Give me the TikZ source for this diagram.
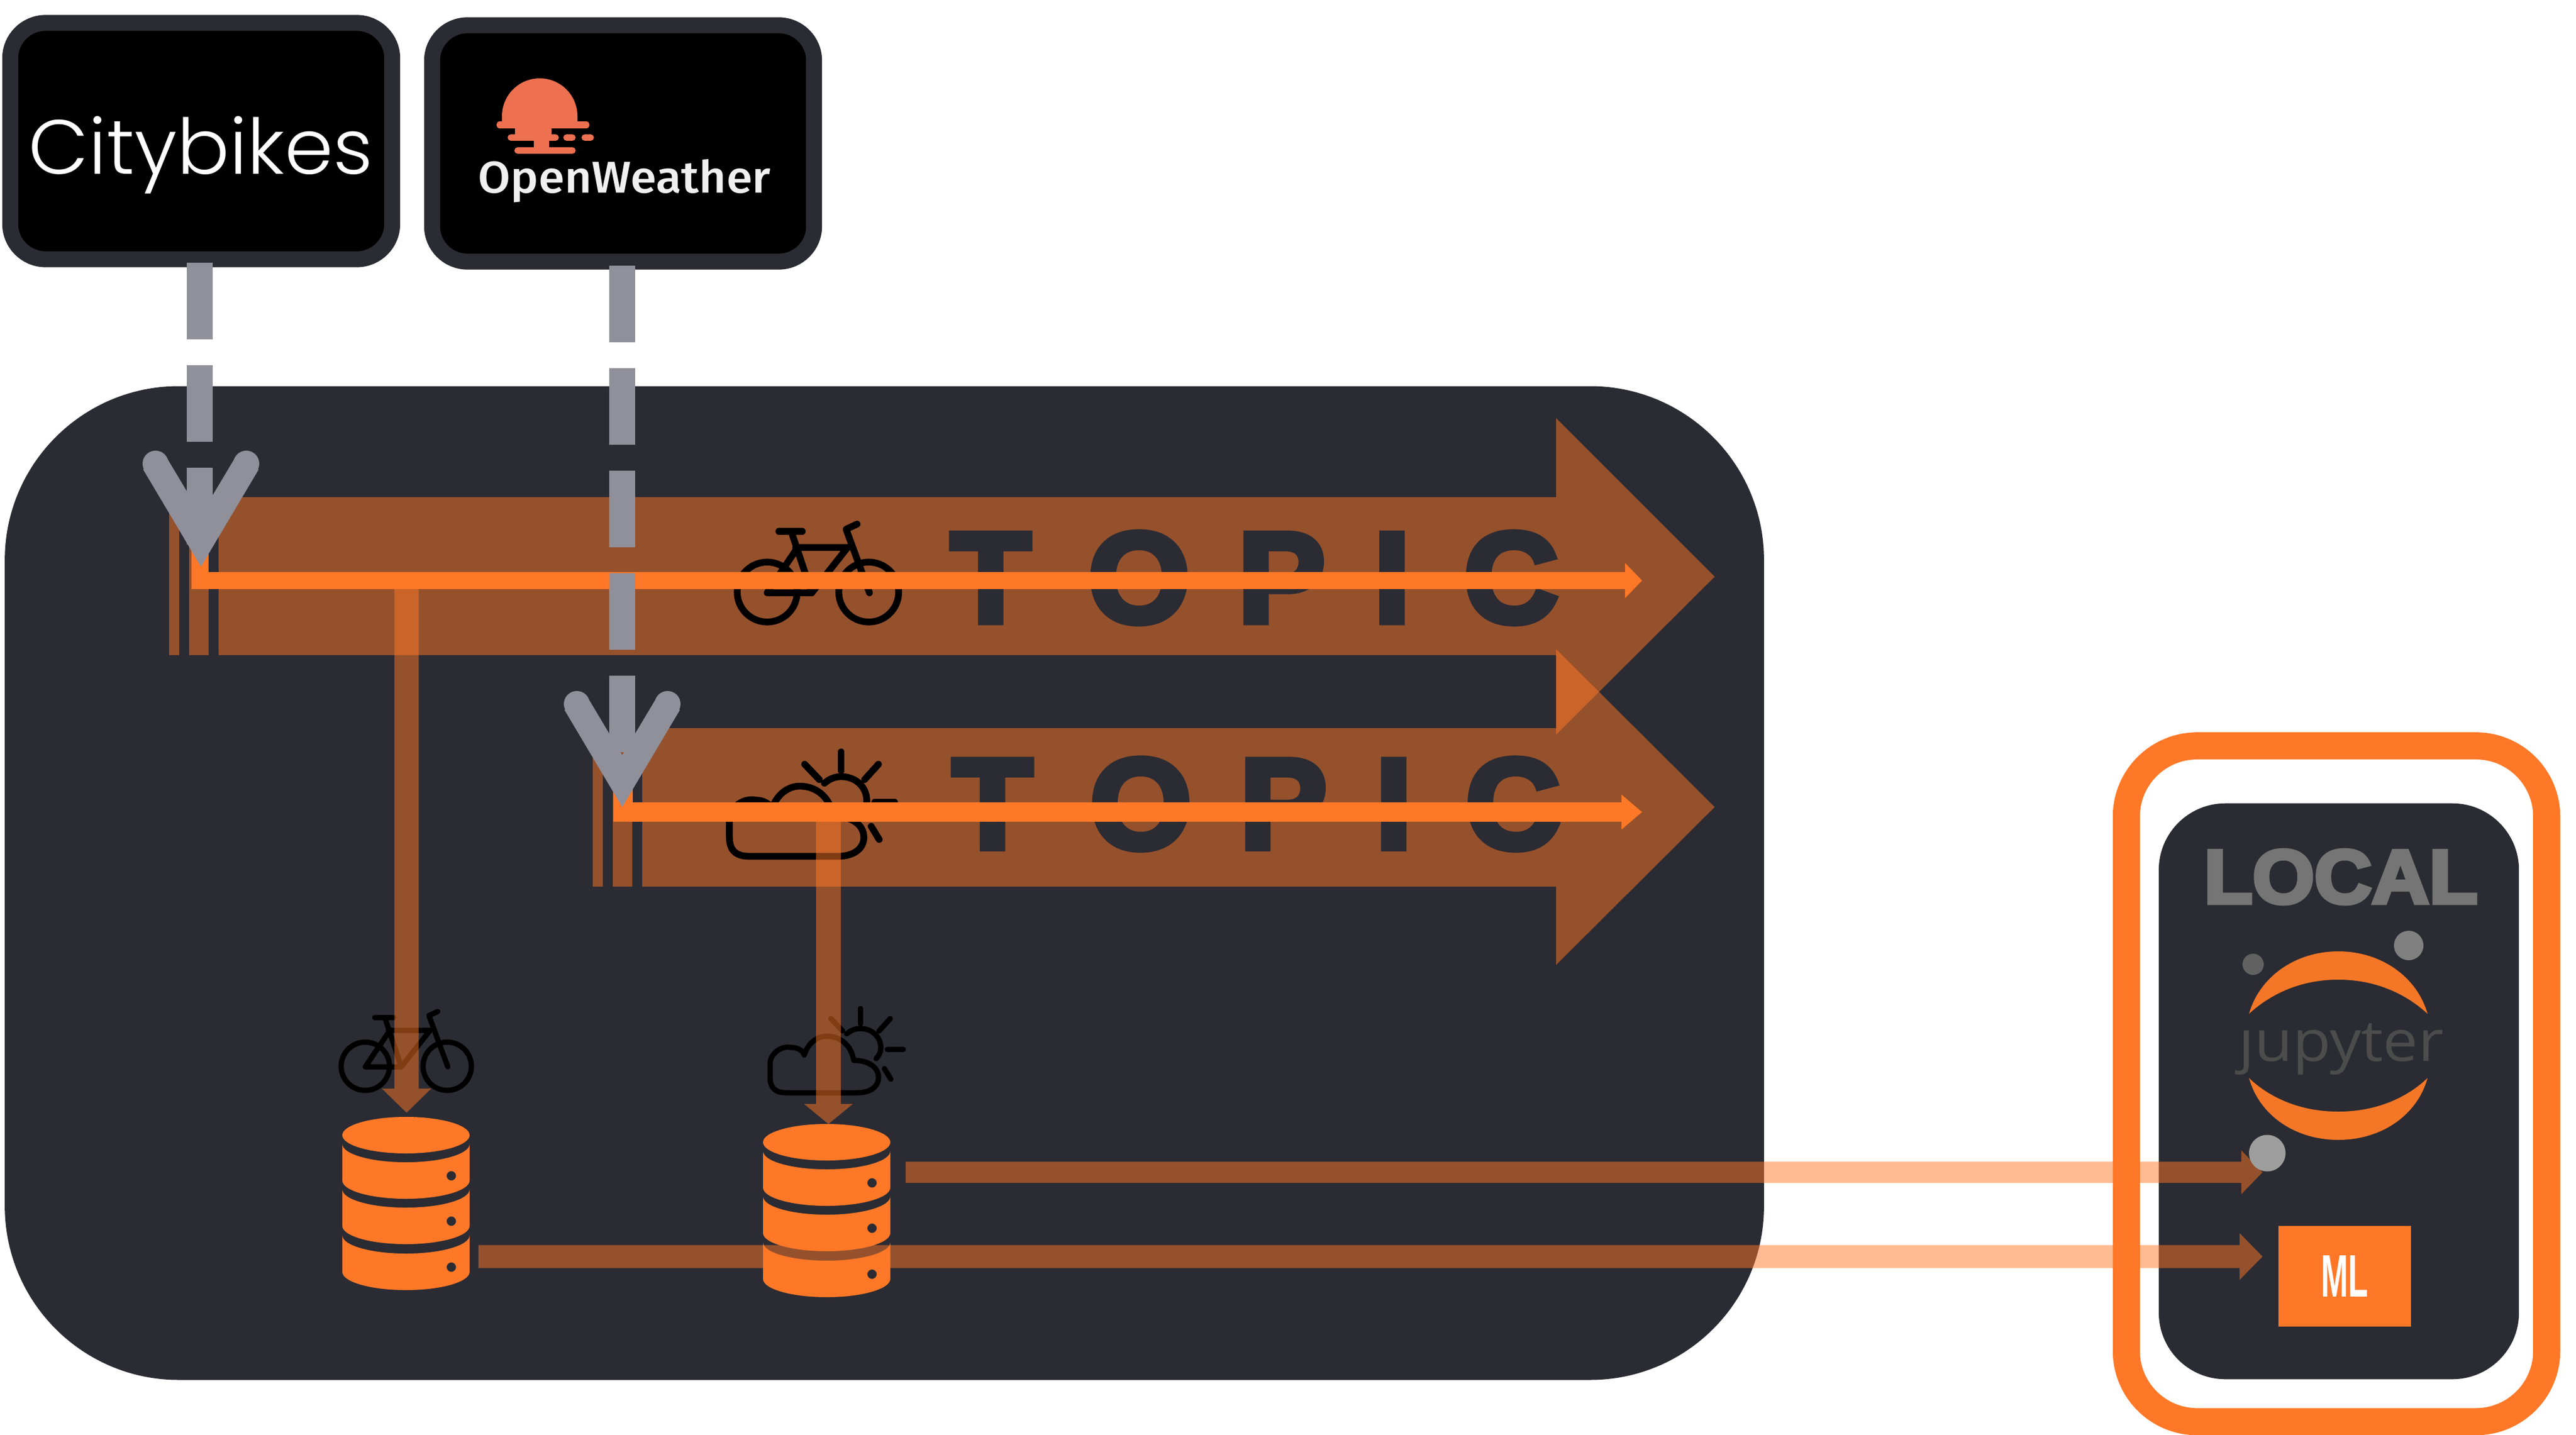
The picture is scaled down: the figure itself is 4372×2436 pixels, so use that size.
\documentclass[tikz,border=0pt]{standalone}
\usepackage{fontspec}
\usepackage{graphicx}
\usetikzlibrary{arrows.meta}
\setmainfont{Liberation Sans}
\newfontfamily\heavyfont[FakeBold=5]{Liberation Sans Bold}
\newfontfamily\cityfont{Poppins Light}
\newfontfamily\weatherfont{Fira Sans Medium}
\newfontfamily\jupfont{Open Sans}
\definecolor{panelc}{HTML}{2B2B33}
\definecolor{orangec}{HTML}{FF7827}
\definecolor{dashc}{HTML}{90909A}
\definecolor{sunc}{HTML}{ED7050}
\definecolor{jupc}{HTML}{F37726}
\tikzset{
  srcbox/.style={draw=panelc,fill=black,line width=.27cm,rounded corners=.6cm,inner sep=0pt,minimum width=6.48cm,minimum height=4.01cm},
  dashline/.style={dashc,line width=.44cm,dash pattern=on 1.3cm off .44cm},
  conn/.style={orangec,opacity=.5},
  streamline/.style={orangec,miter limit=10,line join=miter},
  wordnode/.style={inner sep=0pt,anchor=base west},
}
\newcommand\topicword{\resizebox{10.30cm}{1.52cm}{\heavyfont T\kern.44em O\kern.368em P\kern.372em I\kern.41em C}}
\newcommand\chevronhead[2]{%
  \begin{scope}[shift={(#1,#2)}]
    \fill[dashc] (0,0) -- (-98,-165) -- (-58,-185) -- (0,-88) -- (58,-185) -- (98,-165) -- cycle;
    \fill[dashc] (-77,-175) circle[radius=22];
    \fill[dashc] (77,-175) circle[radius=22];
  \end{scope}}
\newcommand\dbicon[2]{%
  \begin{scope}[shift={(#1,#2)}]
    \fill[orangec] (689,1927) circle[x radius=108,y radius=31];
    \foreach \c/\d in {1942/1996,2019/2073,2097/2151}{
      \fill[orangec,even odd rule] (581,\c) arc[start angle=180,end angle=0,x radius=108,y radius=31]
        -- (797,\c+62) arc[start angle=0,end angle=180,x radius=108,y radius=31] -- cycle
        (766,\d) circle[radius=8];
    }
  \end{scope}}
\newcommand\bikeicon[4]{%
  \begin{scope}[shift={(#1,#2)},scale=#3,line width=#4,line cap=round,line join=round]
    \draw[black] (46,96) circle[radius=41];
    \draw[black] (185,96) circle[radius=41];
    \draw[black] (62,13) -- (94,13);
    \draw[black] (79,13) -- (107,97) -- (46,97) -- (87,36);
    \draw[black] (85,35) -- (156,35) -- (107,97);
    \draw[black] (169,3) -- (154,10) -- (186,97);
  \end{scope}}
\newcommand\cloudicon[4]{%
  \begin{scope}[shift={(#1,#2)},scale=#3,line width=#4,line cap=round,line join=round]
    \draw[black] (31,144) .. controls (12,144) and (4,135) .. (4,118) -- (4,95)
      .. controls (4,78) and (22,64) .. (39,67) .. controls (50,67) and (60,72) .. (62,80)
      .. controls (68,60) and (84,48) .. (100,48) .. controls (125,48) and (142,65) .. (146,89)
      .. controls (170,89) and (188,100) .. (188,118) .. controls (188,135) and (172,144) .. (153,144) -- cycle;
    \draw[black] (134,44) .. controls (142,37) and (150,35) .. (157,35)
      .. controls (178,35) and (192,50) .. (192,68) .. controls (192,74) and (189,81) .. (184,86);
    \draw[black] (157,1) -- (157,27);
    \draw[black] (189,39) -- (208,18);
    \draw[black] (203,70) -- (230,70);
    \draw[black] (198,103) -- (209,121);
    \draw[black] (107,18) -- (127,39);
  \end{scope}}
\begin{document}
\begin{tikzpicture}[x=.01cm,y=-.01cm]
\useasboundingbox (0,0) rectangle (4372,2436);
\fill[white] (0,0) rectangle (4372,2436);

% sources
\node[srcbox] (citybikes) at (341.5,239.5) {};
\node[srcbox] (openweather) at (1057.5,243.5) {};
\node[wordnode,white] (citytext) at (48,295) {\resizebox{5.84cm}{.98cm}{\cityfont Citybikes}};
\node[wordnode,text=white!94!black] (owtext) at (811,327) {\resizebox{4.96cm}{.57cm}{\weatherfont OpenWeather}};
% sun logo
\fill[sunc] (852,207) -- (852,197) arc[start angle=180,end angle=360,radius=64] -- (980,207) -- cycle;
\fill[sunc] (874,207) rectangle (936,234);
\fill[sunc] (906,234) rectangle (932,255);
\begin{scope}[sunc,line width=.11cm,line cap=round]
  \draw (848,212) -- (995,212);
  \draw (867,233.5) -- (943,233.5);
  \draw (878.5,255.5) -- (971.5,255.5);
  \draw (961.5,233.5) -- (971.5,233.5);
  \draw (992.5,233.5) -- (1002.5,233.5);
\end{scope}

% main panel
\node[fill=panelc,rounded corners=2.95cm,inner sep=0pt,minimum width=29.84cm,minimum height=16.86cm] (panel) at (1501,1499) {};
% local panel
\node[fill=panelc,rounded corners=1.13cm,inner sep=0pt,minimum width=6.11cm,minimum height=9.77cm] (localpanel) at (3969.5,1852.5) {};

% topic arrows
\fill[conn] (287,844) rectangle (304,1112)
  (321,844) rectangle (354,1112)
  (371,844) -- (2641,844) -- (2641,710) -- (2910,979) -- (2641,1247) -- (2641,1112) -- (371,1112) -- cycle;
\fill[conn] (1006,1236) rectangle (1023,1505)
  (1040,1236) rectangle (1073,1505)
  (1090,1236) -- (2641,1236) -- (2641,1102) -- (2910,1370) -- (2641,1638) -- (2641,1505) -- (1090,1505) -- cycle;
\node[wordnode,text=panelc] (topicone) at (1613,1056) {\topicword};
\node[wordnode,text=panelc] (topictwo) at (1616,1440) {\topicword};
\bikeicon{1245}{886}{1.24}{.115cm}
\cloudicon{1233}{1275}{1.24}{.115cm}
\bikeicon{574}{1714}{1}{.09cm}
\cloudicon{1303}{1711}{1}{.09cm}

% named ends
\coordinate (cityout) at (339,446);
\coordinate (cityhead) at (339,924);
\coordinate (owout) at (1056,451);
\coordinate (owhead) at (1056,1277);
\coordinate (streamonestart) at (339.5,925);
\coordinate (streamonecorner) at (339.5,985.5);
\coordinate (streamoneend) at (2787,985.5);
\coordinate (streamtwostart) at (1057,1320);
\coordinate (streamtwocorner) at (1057,1378.5);
\coordinate (streamtwoend) at (2787,1378.5);
\coordinate (tapone) at (690,1000);
\coordinate (dbonein) at (690,1889);
\coordinate (taptwo) at (1406,1395);
\coordinate (dbtwoin) at (1406,1908);
\coordinate (dboneout) at (812,2133);
\coordinate (mlin) at (3840,2133);
\coordinate (dbtwoout) at (1537,1990);
\coordinate (jupin) at (3840,1990);

% connectors
\begin{scope}[transparency group,opacity=.5]
\draw[orangec,line width=.41cm,-{Triangle[length=.41cm,width=.81cm]}] (tapone) -- (dbonein);
\draw[orangec,line width=.42cm,-{Triangle[length=.34cm,width=.81cm]}] (taptwo) -- (dbtwoin);
\draw[orangec,line width=.39cm,-{Triangle[length=.39cm,width=.77cm]}] (dboneout) -- (mlin);
\draw[orangec,line width=.36cm,-{Triangle[length=.36cm,width=.72cm]}] (dbtwoout) -- (jupin);
\end{scope}

% stream lines
\draw[streamline,line width=.29cm,-{Triangle[length=.29cm,width=.58cm]}] (streamonestart) -- (streamonecorner) -- (streamoneend);
\draw[streamline,line width=.33cm,-{Triangle[length=.35cm,width=.57cm]}] (streamtwostart) -- (streamtwocorner) -- (streamtwoend);

% databases
\dbicon{0}{0}
\dbicon{714}{12}

% dashed feeds
\draw[dashline] (cityout) -- (cityhead);
\draw[dashline] (owout) -- (owhead);
\chevronhead{341}{962}
\chevronhead{1056}{1370}

% local frame
\node[draw=orangec,line width=.46cm,rounded corners=1.2cm,inner sep=0pt,minimum width=7.13cm,minimum height=11.465cm] (localframe) at (3965.5,1839.75) {};
\node[wordnode,text=black!54] (localtext) at (3740,1533) {\resizebox{4.64cm}{.9cm}{\heavyfont LOCAL}};

% jupyter
\node[wordnode,text=black!70] (juptext) at (3799,1801) {\scalebox{1.09}[1]{\fontsize{27.6pt}{30pt}\jupfont jupyter}};
\fill[panelc] (3800,1700) rectangle (3835,1745);
\fill[jupc] (3817,1721) .. controls (3834,1660) and (3894,1615) .. (3968.5,1615) .. controls (4043,1615) and (4103,1660) .. (4120,1721)
  .. controls (4092,1695) and (4042,1663) .. (3968.5,1663) .. controls (3895,1663) and (3845,1695) .. (3817,1721) -- cycle;
\fill[jupc] (3817,1830) .. controls (3834,1892) and (3894,1935) .. (3968.5,1935) .. controls (4043,1935) and (4103,1892) .. (4120,1830)
  .. controls (4092,1857) and (4042,1887) .. (3968.5,1887) .. controls (3895,1887) and (3845,1857) .. (3817,1830) -- cycle;
\fill[black!50] (4088,1605) circle[radius=25];
\fill[black!62] (3824,1637) circle[radius=18];
\fill[black!38] (3848,1957.5) circle[radius=31];

% ML
\node[fill=orangec,inner sep=0pt,minimum width=2.25cm,minimum height=1.71cm,text=white] (ml) at (3979.5,2166.5) {\raisebox{-.06cm}{\resizebox{.8cm}{.7cm}{\bfseries ML}}};
\end{tikzpicture}
\end{document}
